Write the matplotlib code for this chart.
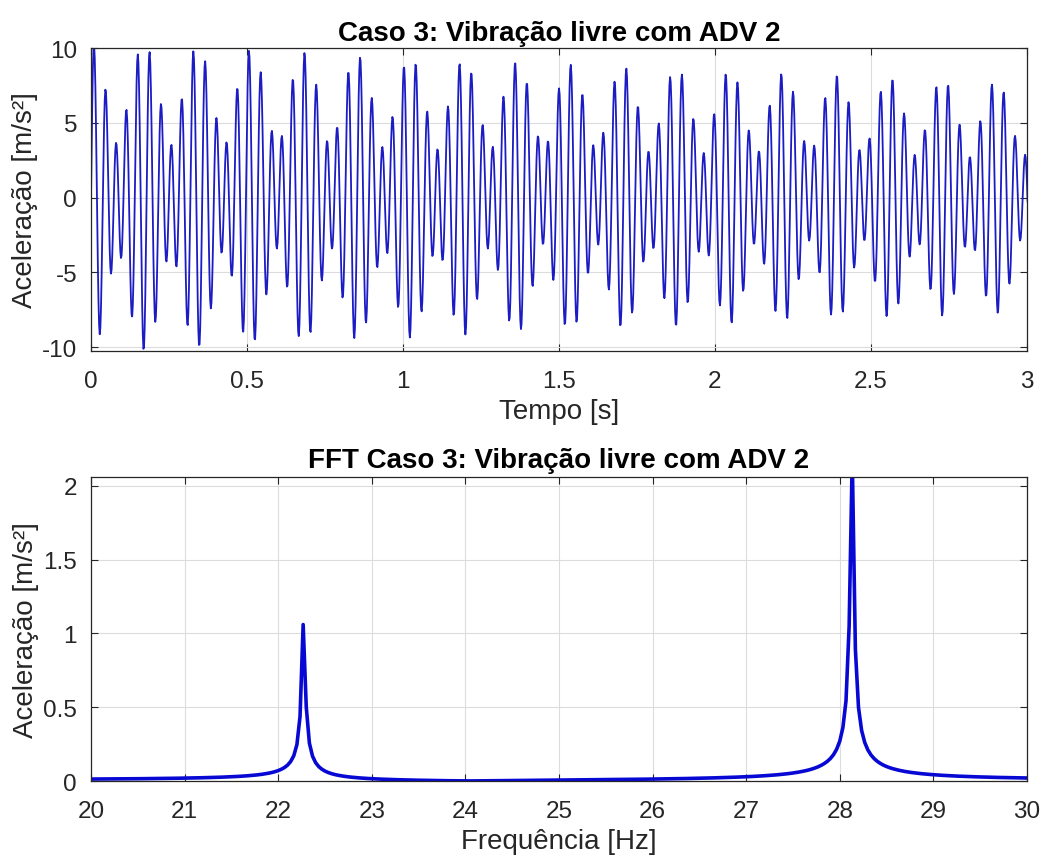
import matplotlib
matplotlib.use('Agg')
import matplotlib.pyplot as plt
import numpy as np

# modal parameters (two-mode free response)
mode_freq = [22.27, 28.13]     # Hz, peak positions in the FFT
mode_amp = [3.38, 7.0]         # m/s^2, from the beat envelope (max ~10.4, min ~3.5)
mode_decay = [0.10, 0.10]      # 1/s, envelope drops to ~75% by t=3 s
fs = 500.0                     # Hz
record_len = 30.0              # s

t_show = 3.0
time_ticks = [0, 0.5, 1, 1.5, 2, 2.5, 3]
time_labels = ['0', '0.5', '1', '1.5', '2', '2.5', '3']
acc_ticks = [-10, -5, 0, 5, 10]
freq_ticks = list(range(20, 31))
fft_ticks = [0, 0.5, 1, 1.5, 2]
fft_labels = ['0', '0.5', '1', '1.5', '2']

t = np.arange(0, record_len, 1/fs)
acc = np.zeros_like(t)
for f, a, s in zip(mode_freq, mode_amp, mode_decay):
    acc += a*np.exp(-s*t)*np.sin(2*np.pi*f*t)

# single sided spectrum, no zero padding (bins every 1/record_len Hz)
X = np.fft.rfft(acc)
freq = np.fft.rfftfreq(len(acc), 1/fs)
mag = 2*np.abs(X)/len(acc)
sel = (freq >= 19.9) & (freq <= 30.1)

plt.rcParams['font.family'] = ['Liberation Sans', 'DejaVu Sans']
plt.rcParams['axes.unicode_minus'] = False
dark = '#262626'
gridc = '#dcdcdc'

fig = plt.figure(figsize=(10.46, 8.62), dpi=100)
ax1 = fig.add_axes([0.0870, 0.5916, 0.8948, 0.3515])
ax2 = fig.add_axes([0.0870, 0.0928, 0.8948, 0.3527])

show = t <= t_show + 0.01
ax1.plot(t[show], acc[show], color='#1c1cc4', linewidth=1.3)
ax1.set_xlim(0, 3)
ax1.set_ylim(-10.27, 10.0)
ax1.set_xticks(time_ticks)
ax1.set_xticklabels(time_labels)
ax1.set_yticks(acc_ticks)
ax1.set_xlabel('Tempo [s]', fontsize=20, color=dark, labelpad=4)
ax1.set_ylabel('Aceleração [m/s²]', fontsize=20, color=dark, labelpad=3)
ax1.set_title('Caso 3: Vibração livre com ADV 2', fontsize=20, fontweight='bold', pad=6)

ax2.plot(freq[sel], mag[sel], color='#0808d4', linewidth=2.6)
ax2.set_xlim(20, 30)
ax2.set_ylim(0, 2.06)
ax2.set_xticks(freq_ticks)
ax2.set_yticks(fft_ticks)
ax2.set_yticklabels(fft_labels)
ax2.set_xlabel('Frequência [Hz]', fontsize=20, color=dark, labelpad=4)
ax2.set_ylabel('Aceleração [m/s²]', fontsize=20, color=dark, labelpad=3)
ax2.set_title('FFT Caso 3: Vibração livre com ADV 2', fontsize=20, fontweight='bold', pad=7.5)

for ax in (ax1, ax2):
    ax.grid(True, color=gridc, linewidth=0.8)
    ax.set_axisbelow(True)
    ax.tick_params(direction='in', length=5, width=0.8, colors=dark,
                   labelsize=17.5, top=True, right=True)
    ax.tick_params(axis='x', pad=14)
    ax.tick_params(axis='y', pad=10)
    for sp in ax.spines.values():
        sp.set_color(dark)
        sp.set_linewidth(0.9)

fig.savefig('out.png', dpi=100)
